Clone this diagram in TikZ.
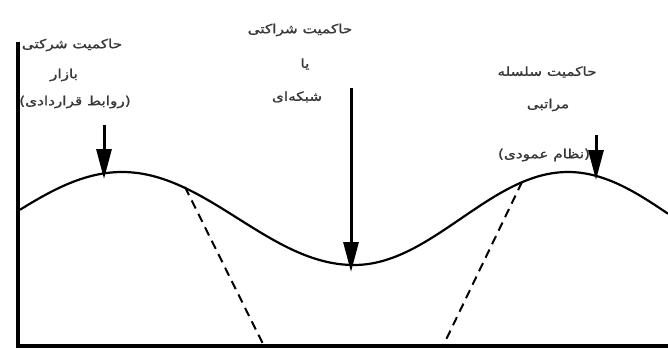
\documentclass[tikz,border=0pt]{standalone}
\usepackage{fontspec}
\newfontfamily\arabicfont[Script=Arabic,FakeStretch=1.22,FakeBold=1.2]{DejaVu Sans}
\TeXXeTstate=1
\usetikzlibrary{arrows.meta}
\begin{document}
\begin{tikzpicture}[x=1pt,y=-1pt,
  lbl/.style={font=\arabicfont\fontsize{12.5}{14}\selectfont, text=black!78, inner sep=0pt, anchor=center},
  bigarrow/.style={line width=3pt, -{Triangle[length=30pt,width=15pt]}},
  wave/.style={line width=2.2pt},
  axisline/.style={line width=4pt},
  dashline/.style={line width=2pt, dash pattern=on 9pt off 6pt}]
\useasboundingbox (0,0) rectangle (668,350);
\fill[white] (0,0) rectangle (668,350);
% axes
\coordinate (top) at (18,42);
\coordinate (origin) at (18,346);
\coordinate (xend) at (668,346);
\draw[axisline] (top) -- (origin);
\draw[line width=3.5pt] ([xshift=-2pt]origin) -- (xend);
% wave
\draw[wave] plot[domain=20:354,samples=90] (\x,{218.5-46.5*cos((\x-122)/232*180)})
  -- plot[domain=354:668,samples=90] (\x,{218.5+46.5*cos((\x-354)/214*180)});
% dashed lines
\coordinate (d1a) at (185,187);
\coordinate (d1b) at (264,346);
\coordinate (d2a) at (522,182);
\coordinate (d2b) at (443,346);
\draw[dashline] (d1a) -- (d1b);
\draw[dashline] (d2a) -- (d2b);
% labels
\node[lbl] (L1) at (72,45) {\beginR حاکمیت شرکتی\endR};
\node[lbl] (L2) at (64,75) {\beginR بازار\endR};
\node[lbl] (L3) at (75,102) {)\beginR روابط قراردادی\endR(};
\node[lbl] (C1) at (300,30) {\beginR حاکمیت شراکتی\endR};
\node[lbl] (C2) at (305,64) {\beginR یا\endR};
\node[lbl] (C3) at (297,97) {\beginR شبکه‌ای\endR};
\node[lbl] (R1) at (547,72) {\beginR حاکمیت سلسله\endR};
\node[lbl] (R2) at (548,105) {\beginR مراتبی\endR};
\node[lbl] (R3) at (544,155) {)\beginR نظام عمودی\endR(};
% arrows
\coordinate (a1s) at (104,125);
\coordinate (a1e) at (104,179);
\coordinate (a2s) at (351,88);
\coordinate (a2e) at (351,272);
\coordinate (a3s) at (596,135);
\coordinate (a3e) at (596,180);
\draw[bigarrow] (a1s) -- (a1e);
\draw[bigarrow] (a2s) -- (a2e);
\draw[bigarrow] (a3s) -- (a3e);
\end{tikzpicture}
\end{document}
